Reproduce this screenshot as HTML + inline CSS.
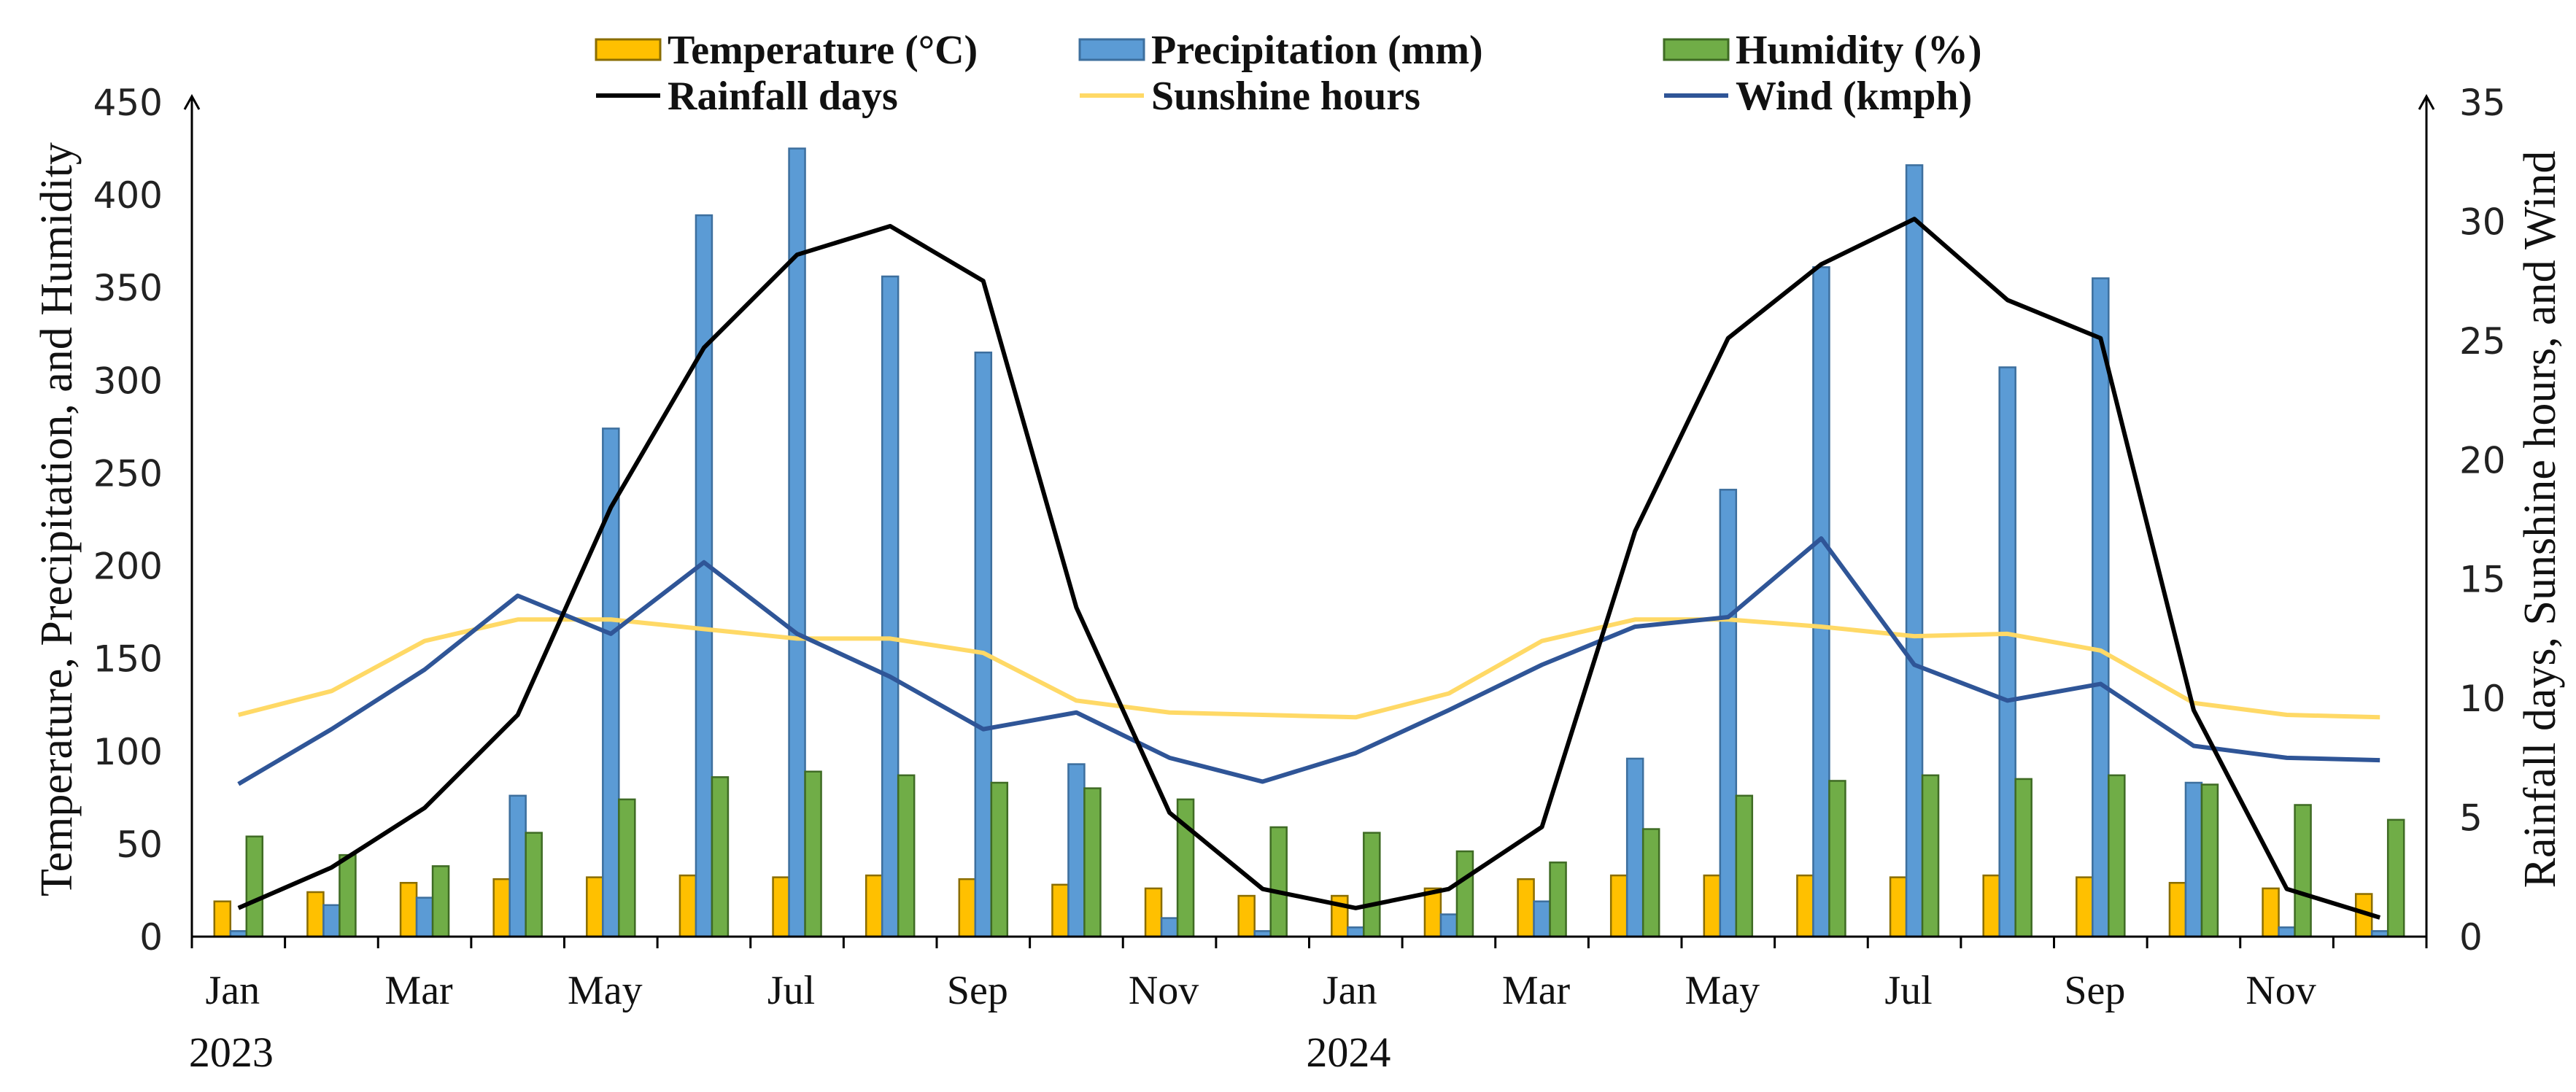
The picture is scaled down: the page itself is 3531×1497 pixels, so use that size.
<!DOCTYPE html>
<html><head><meta charset="utf-8"><style>
html,body{margin:0;padding:0;background:#fff;}
svg{display:block;}
.tick{font-family:"DejaVu Sans","Liberation Sans",sans-serif;font-size:50px;fill:#222;}
.mon{font-family:"Liberation Serif",serif;font-size:56px;fill:#111;}
.leg{font-family:"Liberation Serif",serif;font-size:56px;font-weight:bold;fill:#111;}
.ttl{font-family:"Liberation Serif",serif;font-size:62px;fill:#111;}
</style></head><body>
<svg id="chart" width="3531" height="1497" viewBox="0 0 3531 1497" xmlns="http://www.w3.org/2000/svg">
<g id="bars"></g>
<g id="lines"></g>
<g id="axes"></g>
<g id="legend"></g>
</svg>
<script>
const months = ["Jan","Feb","Mar","Apr","May","Jun","Jul","Aug","Sep","Oct","Nov","Dec","Jan","Feb","Mar","Apr","May","Jun","Jul","Aug","Sep","Oct","Nov","Dec"];
const years = ["2023","2024"];
const temperature = [19,24,29,31,32,33,32,33,31,28,26,22, 22,26,31,33,33,33,32,33,32,29,26,23];
const precipitation = [3,17,21,76,274,389,425,356,315,93,10,3, 5,12,19,96,241,361,416,307,355,83,5,3];
const humidity = [54,44,38,56,74,86,89,87,83,80,74,59, 56,46,40,58,76,84,87,85,87,82,71,63];
const rainfallDays = [1.2,2.9,5.4,9.3,18,24.7,28.6,29.8,27.5,13.8,5.2,2.0, 1.2,2.0,4.6,17,25.1,28.2,30.1,26.7,25.1,9.5,2.0,0.8];
const sunshine = [9.3,10.3,12.4,13.3,13.3,12.9,12.5,12.5,11.9,9.9,9.4,9.3, 9.2,10.2,12.4,13.3,13.3,13.0,12.6,12.7,12.0,9.8,9.3,9.2];
const wind = [6.4,8.7,11.2,14.3,12.7,15.7,12.7,10.9,8.7,9.4,7.5,6.5, 7.7,9.5,11.4,13.0,13.4,16.7,11.4,9.9,10.6,8.0,7.5,7.4];
const leftTicks = [0,50,100,150,200,250,300,350,400,450];
const rightTicks = [0,5,10,15,20,25,30,35];

const NS="http://www.w3.org/2000/svg";
const X0=263, X1=3326, Y0=1284, YT=140;
const cw=(X1-X0)/months.length;
const xc=i=>X0+(i+0.5)*cw;
const yL=v=>Y0-(v/450)*(Y0-YT);
const yR=v=>Y0-(v/35)*(Y0-YT);
function mk(tag,attrs,parent){const e=document.createElementNS(NS,tag);for(const k in attrs)e.setAttribute(k,attrs[k]);parent.appendChild(e);return e;}
const bars=document.getElementById('bars'),lines=document.getElementById('lines'),axes=document.getElementById('axes'),legend=document.getElementById('legend');

const bw=22;
const series=[[temperature,"#FFC000","#8a6d00","temperature-bar"],[precipitation,"#5B9BD5","#3d6f9e","precipitation-bar"],[humidity,"#70AD47","#3f6b24","humidity-bar"]];
series.forEach((s,k)=>{
  s[0].forEach((v,i)=>{
    const x=xc(i)+(k-1.5)*bw;
    const r=mk('rect',{x:x,y:yL(v),width:bw,height:Y0-yL(v),fill:s[1],stroke:s[2],'stroke-width':2.5},bars);
    
    
  });
});
const lineSeries=[[sunshine,"#FFD966","sunshine-line"],[wind,"#2F5597","wind-line"],[rainfallDays,"#000","rainfall-days-line"]];
lineSeries.forEach(s=>{
  const p=mk('polyline',{points:s[0].map((v,i)=>xc(i)+','+yR(v)).join(' '),fill:'none',stroke:s[1],'stroke-width':6,'stroke-linejoin':'round'},lines);
  
  
});
mk('line',{x1:X0,y1:Y0,x2:X1,y2:Y0,stroke:'#000','stroke-width':3},axes);
mk('line',{x1:X0,y1:Y0,x2:X0,y2:YT-8,stroke:'#000','stroke-width':3},axes);
mk('line',{x1:X1,y1:Y0,x2:X1,y2:YT-8,stroke:'#000','stroke-width':3},axes);
mk('polyline',{points:`${X0-10},${YT+10} ${X0},${YT-8} ${X0+10},${YT+10}`,fill:'none',stroke:'#000','stroke-width':3},axes);
mk('polyline',{points:`${X1-10},${YT+10} ${X1},${YT-8} ${X1+10},${YT+10}`,fill:'none',stroke:'#000','stroke-width':3},axes);
for(let i=0;i<=months.length;i++){mk('line',{x1:X0+i*cw,y1:Y0,x2:X0+i*cw,y2:Y0+16,stroke:'#000','stroke-width':3},axes);}
leftTicks.forEach(v=>{const t=mk('text',{x:X0-40,y:yL(v)+18,'text-anchor':'end',class:'tick'},axes);t.textContent=v;
  });
rightTicks.forEach(v=>{const t=mk('text',{x:X1+45,y:yR(v)+18,'text-anchor':'start',class:'tick'},axes);t.textContent=v;
  });
months.forEach((m,i)=>{if(i%2===0){const t=mk('text',{x:xc(i)-8,y:1376,'text-anchor':'middle',class:'mon'},axes);t.textContent=m;
  }});
years.forEach((y,k)=>{const t=mk('text',{x:xc(k*12)-10,y:1462,'text-anchor':'middle',class:'mon',style:'font-size:58px'},axes);t.textContent=y;
  });
let t=mk('text',{transform:`translate(98,712) rotate(-90)`,'text-anchor':'middle',class:'ttl'},axes);t.textContent="Temperature, Precipitation, and Humidity";

t=mk('text',{transform:`translate(3502,712) rotate(-90)`,'text-anchor':'middle',class:'ttl'},axes);t.textContent="Rainfall days, Sunshine hours, and Wind";

const legItems=[
 ["bar","#FFC000","#8a6d00","Temperature (°C)",817,68,"legend-temperature"],
 ["bar","#5B9BD5","#3d6f9e","Precipitation (mm)",1480,68,"legend-precipitation"],
 ["bar","#70AD47","#3f6b24","Humidity (%)",2281,68,"legend-humidity"],
 ["line","#000","","Rainfall days",817,131,"legend-rainfall-days"],
 ["line","#FFD966","","Sunshine hours",1480,131,"legend-sunshine"],
 ["line","#2F5597","","Wind (kmph)",2281,131,"legend-wind"]];
legItems.forEach(it=>{
  const g=mk('g',{},legend);
  
  
  if(it[0]==="bar") mk('rect',{x:it[4],y:it[5]-14,width:88,height:28,fill:it[1],stroke:it[2],'stroke-width':3},g);
  else mk('line',{x1:it[4],y1:it[5],x2:it[4]+88,y2:it[5],stroke:it[1],'stroke-width':6},g);
  const tx=mk('text',{x:it[4]+98,y:it[5]+19,class:'leg'},g);tx.textContent=it[3];
});
</script>
</body></html>
